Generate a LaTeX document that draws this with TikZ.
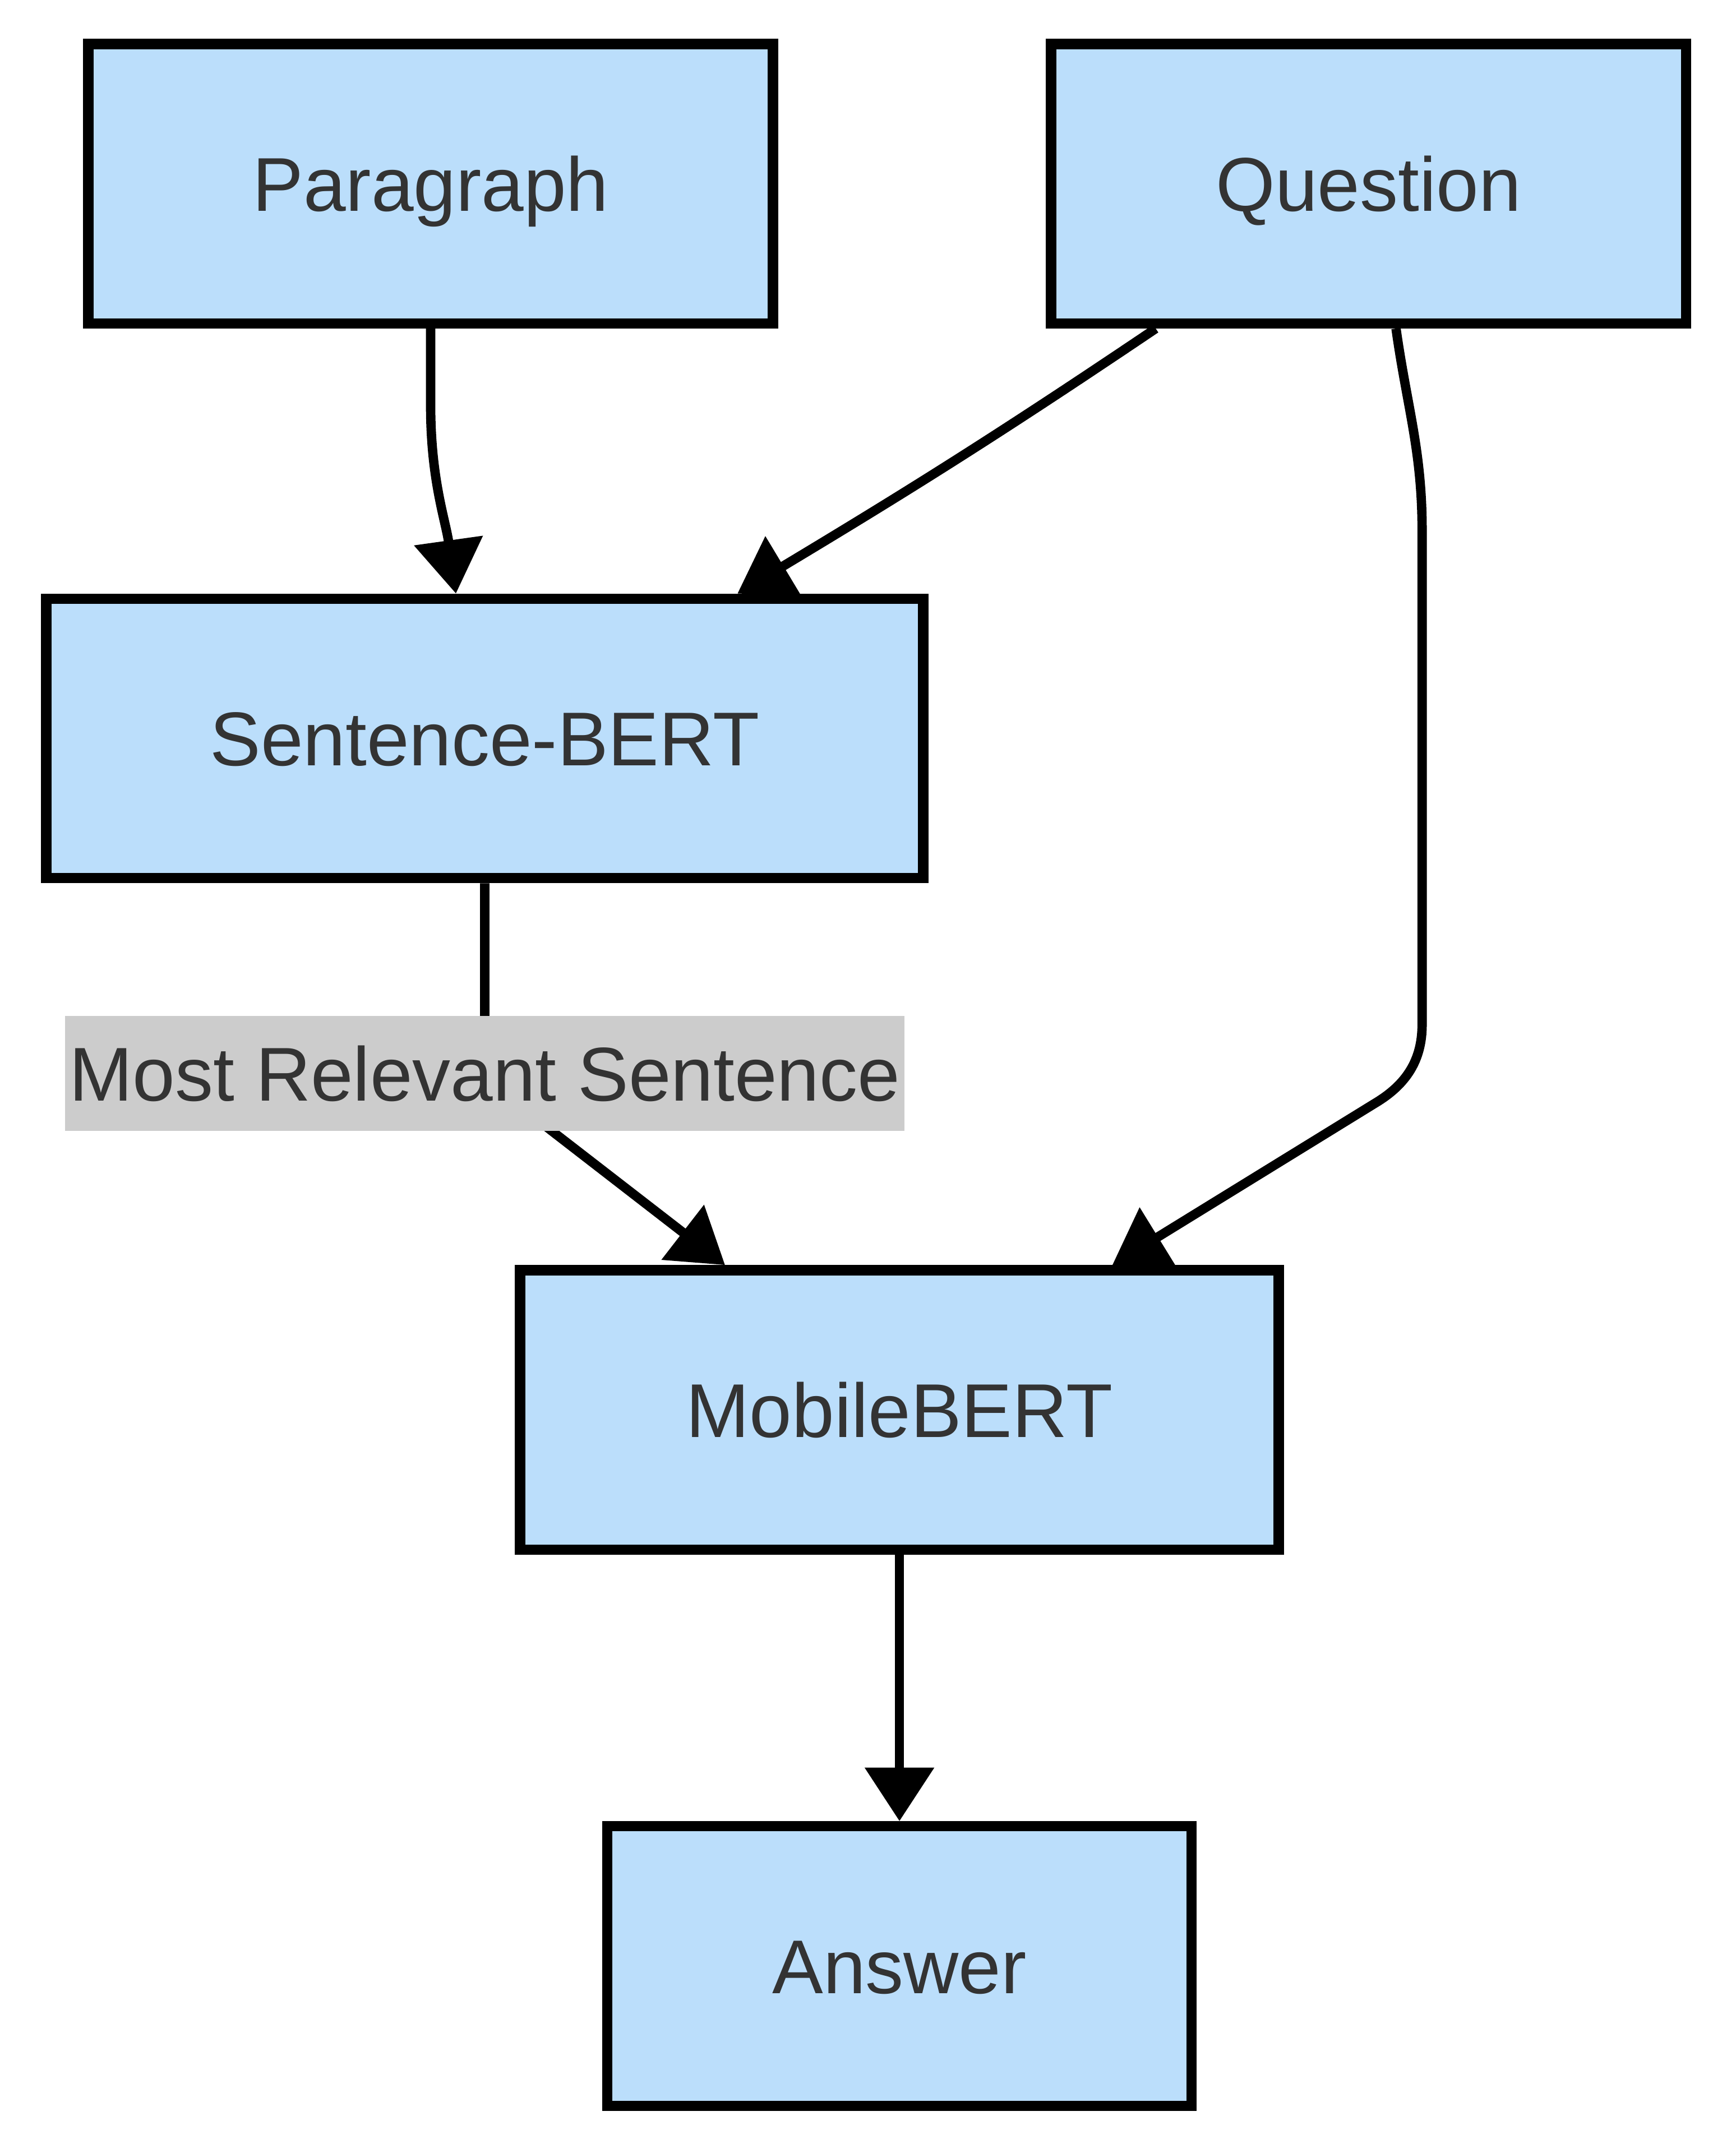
\documentclass[tikz,border=0pt]{standalone}
\usepackage{fontspec}
\setmainfont{Liberation Sans}
\definecolor{BoxBlue}{HTML}{BBDEFB}
\definecolor{TextGrey}{HTML}{333333}
\definecolor{LabelGrey}{HTML}{CCCCCC}
\usepackage{tikz}
\usetikzlibrary{arrows.meta,positioning,backgrounds}

\begin{document}
\begin{tikzpicture}[
        font=\fontsize{15.8pt}{19pt}\selectfont,
        box/.style={rectangle, draw=black, fill=BoxBlue, line width=0.75mm, text=TextGrey,
                    inner sep=0pt, minimum height=20.35mm, text height=11.3pt, text depth=0pt},
        note/.style={rectangle, fill=LabelGrey, text=TextGrey, inner sep=0pt, outer sep=0pt,
                     minimum width=61.1mm, minimum height=8.4mm},
        arrow/.style={draw, line width=0.68mm, -{Triangle[length=3.9mm, width=4.9mm]}}
    ]
        \useasboundingbox (0,0) rectangle (126.4mm,-156.8mm);
        \node[box, minimum width=49.85mm] (para) at (31.36mm,-13.38mm) {Paragraph};
        \node[box, minimum width=46.25mm, right=19.5mm of para]             (quest)  {Question};
        \node[box, minimum width=63.85mm, below=19.3mm of para, xshift=3.94mm] (sbert) {Sentence-BERT};
        \node[box, minimum width=55.25mm, below=27.8mm of sbert, xshift=30.2mm] (mobile) {MobileBERT};
        \node[box, minimum width=42.55mm, below=19.4mm of mobile]           (answer) {Answer};
        \node[note, below=9.65mm of sbert] (relevant) {Most Relevant Sentence};
        \begin{scope}[on background layer]
        \path[arrow] (para.south) -- ++(0,-5.6mm) to[out=-90, in=98] ([xshift=-2.1mm]sbert.north);
        \path[arrow] ([xshift=-15.5mm]quest.south) to[out=214, in=31] ([xshift=18.4mm]sbert.north);
        \path[arrow] ([xshift=2mm]quest.south) to[out=-82, in=90] ++(1.9mm,-14.7mm)
            -- ++(0,-36mm) to[out=-90, in=31] ++(-3.4mm,-5.7mm) -- ([xshift=15.5mm]mobile.north);
        \path[arrow] (sbert.south) -- (relevant.north) to[out=-90, in=142] ([xshift=4.9mm]relevant.south)
            -- ([xshift=-12.7mm]mobile.north);
        \path[arrow] (mobile) -- (answer);
        \end{scope}
    \end{tikzpicture}
\end{document}
